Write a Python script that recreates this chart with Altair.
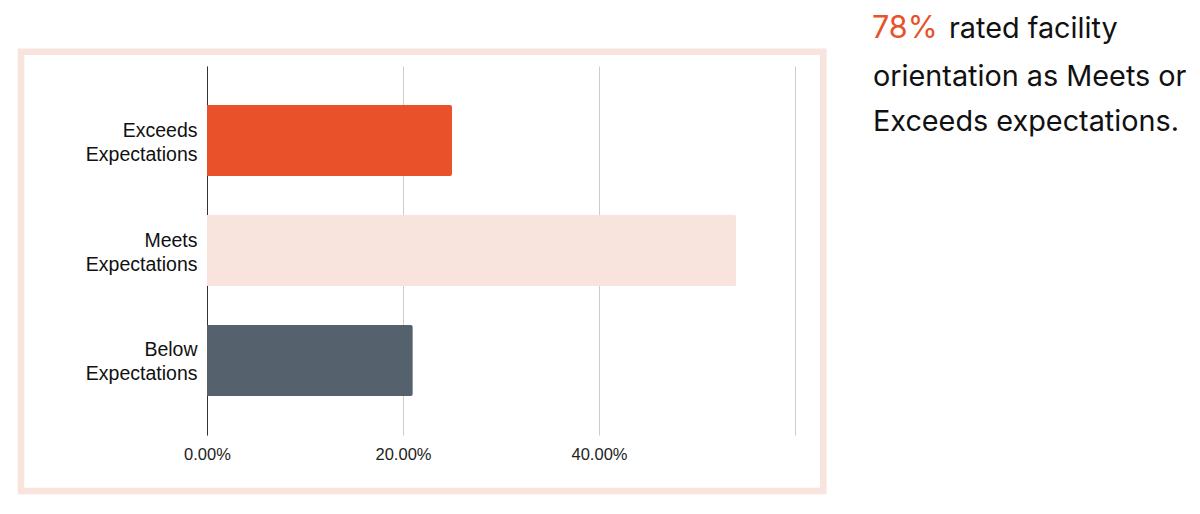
import altair as alt
import pandas as pd

# ---- data ----
categories = ["Exceeds Expectations", "Meets Expectations", "Below Expectations"]
shares = [0.25, 0.54, 0.21]
bar_colors = ["#E8512A", "#F8E3DD", "#56616E"]
tick_values = [0.0, 0.2, 0.4, 0.6]

headline = "78%"
caption_lines = ["rated facility", "orientation as Meets or", "Exceeds expectations."]

df = pd.DataFrame({"category": categories, "share": shares, "color": bar_colors})

W, H = 588, 369

bars = alt.Chart(df).mark_bar(cornerRadiusTopRight=2, cornerRadiusBottomRight=2).encode(
    x=alt.X(
        "share:Q",
        scale=alt.Scale(domain=[0, 0.6], nice=False),
        axis=alt.Axis(
            values=tick_values,
            format=".2%",
            labelExpr="datum.value >= 0.6 ? '' : datum.label",
            title=None,
            grid=True,
            gridColor="#cccccc",
            gridWidth=1,
            domain=False,
            ticks=False,
            labelFlush=False,
            labelFont="Liberation Sans",
            labelFontSize=16.5,
            labelColor="#222222",
            labelPadding=11,
        ),
    ),
    y=alt.Y(
        "category:N",
        sort=categories,
        scale=alt.Scale(paddingInner=0.355, paddingOuter=0.355),
        axis=alt.Axis(
            title=None,
            labelExpr="split(datum.label, ' ')",
            labelFont="Liberation Sans",
            labelFontSize=19.5,
            labelLineHeight=24,
            labelColor="#111111",
            labelPadding=10,
            labelOffset=-10,
            ticks=False,
            domain=True,
            domainColor="#333333",
            domainWidth=1,
        ),
    ),
    color=alt.Color("color:N", scale=None, legend=None),
)

frame = alt.Chart(pd.DataFrame({"frame": [0]})).mark_rect(
    fill=None, stroke="#F8E3DD", strokeWidth=6.5
).encode(
    x=alt.value(-186), x2=alt.value(616.3), y=alt.value(-14.3), y2=alt.value(425)
)

FS = 28.8
head = alt.Chart(pd.DataFrame({"t": [headline]})).mark_text(
    align="left", baseline="alphabetic", font="Inter", fontSize=30.5, color="#E8512A"
).encode(text="t:N", x=alt.value(665), y=alt.value(-28))

line1 = alt.Chart(pd.DataFrame({"t": [caption_lines[0]]})).mark_text(
    align="left", baseline="alphabetic", font="Inter", fontSize=FS, color="#111111"
).encode(text="t:N", x=alt.value(742), y=alt.value(-28))

line2 = alt.Chart(pd.DataFrame({"t": [caption_lines[1]]})).mark_text(
    align="left", baseline="alphabetic", font="Inter", fontSize=FS, color="#111111"
).encode(text="t:N", x=alt.value(666), y=alt.value(20))

line3 = alt.Chart(pd.DataFrame({"t": [caption_lines[2]]})).mark_text(
    align="left", baseline="alphabetic", font="Inter", fontSize=FS, color="#111111"
).encode(text="t:N", x=alt.value(666), y=alt.value(65))

chart = alt.layer(frame, bars, head, line1, line2, line3).properties(
    width=W,
    height=H,
    autosize=alt.AutoSizeParams(type="none"),
    padding={"left": 199, "top": 58, "right": 397, "bottom": 63},
    background="white",
).configure_view(stroke=None)

chart.save("out.html", embed_options={"renderer": "svg", "actions": False})
